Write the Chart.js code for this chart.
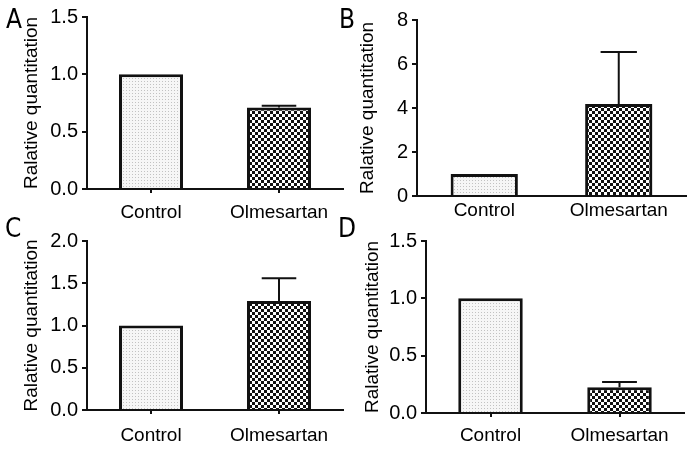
<!DOCTYPE html>
<html>
<head>
<meta charset="utf-8">
<script src="https://cdn.jsdelivr.net/npm/chart.js@4.4.0/dist/chart.umd.min.js"></script>
<style>
body { margin: 0; background: #fff; }
#wrap { position: relative; width: 692px; height: 449px; overflow: hidden; }
canvas { position: absolute; }
.letter { position: absolute; font-family: 'Liberation Sans Narrow', 'DejaVu Sans Condensed', sans-serif; font-size: 26px; color: #000; line-height: 1; }
</style>
</head>
<body>
<div id="wrap">
  <canvas id="chartA" width="346" height="225" style="left:0;top:0"></canvas>
  <canvas id="chartB" width="346" height="225" style="left:346px;top:0"></canvas>
  <canvas id="chartC" width="346" height="224" style="left:0;top:225px"></canvas>
  <canvas id="chartD" width="346" height="224" style="left:346px;top:225px"></canvas>
  <div class="letter" style="left:6px;top:6px">A</div>
  <div class="letter" style="left:339px;top:6px">B</div>
  <div class="letter" style="left:5px;top:215px">C</div>
  <div class="letter" style="left:338px;top:215px">D</div>
</div>
<script>
// values
var categories = ['Control', 'Olmesartan']

var meansA = [1.0, 0.71]
var errA = [0, 0.015]
var ticksA = [0, 1.5, 0.5]

var meansB = [1.0, 4.18]
var errB = [0, 2.37]
var ticksB = [0, 8, 2]

var meansC = [1.0, 1.29]
var errC = [0, 0.27]
var ticksC = [0, 2.0, 0.5]

var meansD = [1.0, 0.225]
var errD = [0, 0.045]
var ticksD = [0, 1.5, 0.5]

var yTitle = 'Ralative quantitation'

Chart.defaults.font.family = "'Liberation Sans', Arial, sans-serif"
Chart.defaults.color = '#000'

function dotPattern() {
    var c = document.createElement('canvas')
    c.width = 3; c.height = 3
    var g = c.getContext('2d')
    g.fillStyle = '#f6f6f6'; g.fillRect(0, 0, 3, 3)
    g.fillStyle = '#c2c2c2'; g.fillRect(0, 0, 1, 1)
    return g.createPattern(c, 'repeat')
}

function checkPattern() {
    var c = document.createElement('canvas')
    c.width = 6; c.height = 6
    var g = c.getContext('2d')
    g.fillStyle = '#111'; g.fillRect(0, 0, 6, 6)
    g.fillStyle = '#fff'; g.fillRect(0, 0, 3, 3); g.fillRect(3, 3, 3, 3)
    return g.createPattern(c, 'repeat')
}

var errorBars = {
    id: 'errorBars',
    afterDatasetsDraw(chart, args, opts) {
        var ctx = chart.ctx
        var y = chart.scales.y
        var meta = chart.getDatasetMeta(0)
        var values = chart.data.datasets[0].data
        ctx.save()
        ctx.strokeStyle = '#111'
        ctx.lineWidth = 2
        meta.data.forEach(function (bar, i) {
            var e = opts.errors[i]
            if (!e) return
            var top = y.getPixelForValue(values[i] + e)
            var base = y.getPixelForValue(values[i])
            var half = bar.width * 0.27
            ctx.beginPath()
            ctx.moveTo(bar.x, base); ctx.lineTo(bar.x, top)
            ctx.moveTo(bar.x - half, top); ctx.lineTo(bar.x + half, top)
            ctx.stroke()
        })
        ctx.restore()
    }
}

function Grafico(id, means, errs, ticks, decimals, lay) {
    var ctx = document.getElementById(id).getContext('2d')
    return new Chart(ctx, {
        type: 'bar',
        data: {
            labels: categories,
            datasets: [{
                data: means,
                backgroundColor: [dotPattern(), checkPattern()],
                borderColor: '#111',
                borderWidth: 3,
                barPercentage: 0.5,
                categoryPercentage: 1
            }]
        },
        options: {
            responsive: false,
            animation: false,
            layout: { padding: lay.pad },
            plugins: {
                legend: { display: false },
                tooltip: { enabled: false },
                errorBars: { errors: errs }
            },
            scales: {
                x: {
                    afterFit: function (s) { s.height = lay.xh },
                    grid: { display: lay.xTicks, drawOnChartArea: false, drawTicks: lay.xTicks, tickLength: 4, offset: false, color: '#111', lineWidth: 2 },
                    border: { display: true, color: '#111', width: 2 },
                    ticks: { font: { size: 19 }, padding: lay.xPad, maxRotation: 0 }
                },
                y: {
                    min: ticks[0],
                    max: ticks[1],
                    afterFit: function (s) { s.width = lay.yw },
                    grid: { drawOnChartArea: false, drawTicks: true, tickLength: 5, color: '#111', lineWidth: 2 },
                    border: { display: true, color: '#111', width: 2 },
                    ticks: {
                        stepSize: ticks[2],
                        font: { size: 20 },
                        padding: 4,
                        callback: function (v) { return Number(v).toFixed(decimals) }
                    },
                    title: {
                        display: true,
                        text: yTitle,
                        font: { size: 19 },
                        padding: { top: lay.tp, bottom: 0 }
                    }
                }
            }
        },
        plugins: [errorBars]
    })
}

Grafico('chartA', meansA, errA, ticksA, 1, { pad: { left: 0, top: 17, right: 3, bottom: 0 }, yw: 87, xh: 36, tp: 20, xTicks: true, xPad: 8 })
Grafico('chartB', meansB, errB, ticksB, 0, { pad: { left: 0, top: 20, right: 6, bottom: 0 }, yw: 71, xh: 29, tp: 10, xTicks: false, xPad: 3 })
Grafico('chartC', meansC, errC, ticksC, 1, { pad: { left: 0, top: 15, right: 3, bottom: 0 }, yw: 87, xh: 39, tp: 20, xTicks: true, xPad: 10 })
Grafico('chartD', meansD, errD, ticksD, 1, { pad: { left: 0, top: 15, right: 8, bottom: 0 }, yw: 80, xh: 36, tp: 15, xTicks: true, xPad: 7 })
</script>
</body>
</html>
